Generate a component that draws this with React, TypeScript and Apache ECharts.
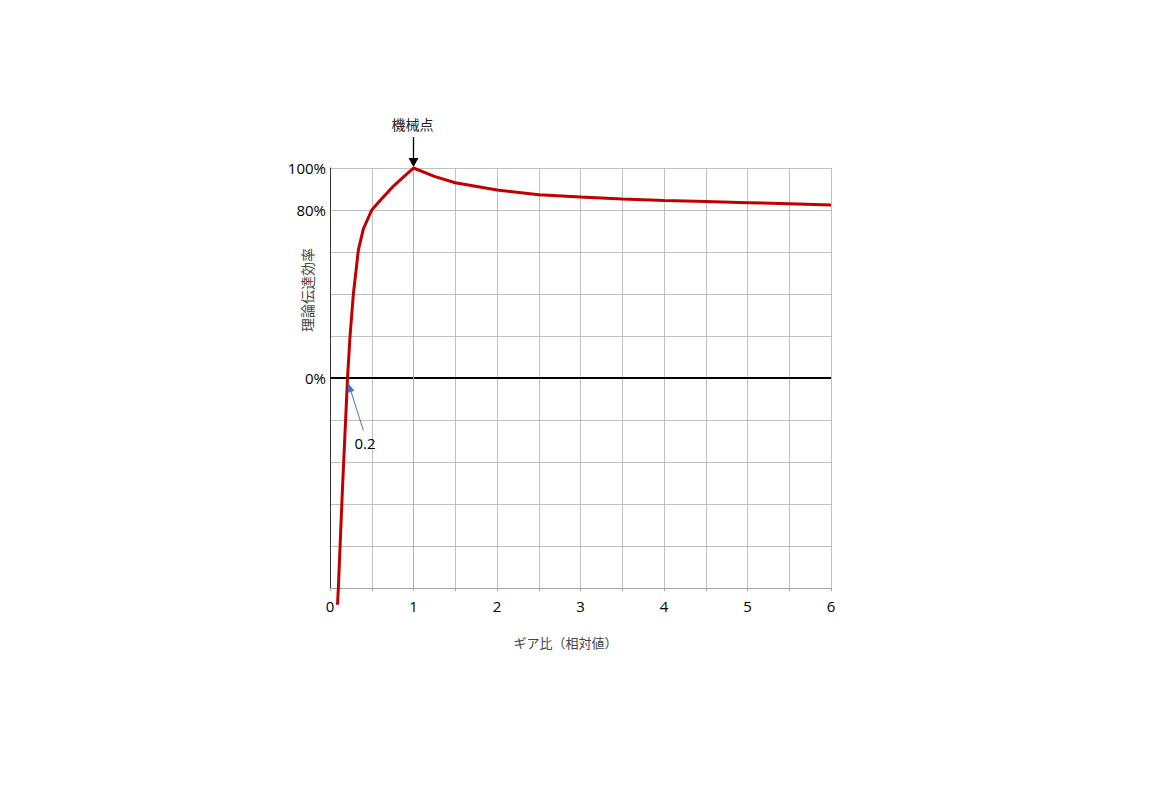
import React, { useEffect, useRef } from "react";
import * as echarts from "echarts";

// Gear ratio (relative) and theoretical transmission efficiency (%)
const gearRatio = [0.09, 0.1, 0.15, 0.21, 0.24, 0.28, 0.34, 0.4, 0.5, 0.6, 0.75, 0.875, 1, 1.25, 1.5, 2, 2.5, 3, 3.5, 4, 4.5, 5, 5.5, 6];
const efficiency = [-108, -100, -52, 0, 20, 40, 61, 71, 80, 84.5, 91, 95.5, 100, 96, 93, 89.5, 87.3, 86.2, 85.2, 84.5, 84, 83.5, 83, 82.4];

const yTickLabels = [100, 80, 0];
const xName = "ギア比（相対値）";
const yName = "理論伝達効率";
const peakLabel = "機械点";
const peakPoint = [1, 100];
const zeroLabel = "0.2";
const zeroArrowTip = [0.22, -2.5];
const zeroArrowTail = [0.4, -25];
const zeroLabelPos = [0.42, -31];

const FONT = "'Open Sans', 'Noto Sans CJK JP', sans-serif";
const JP = "'Noto Sans CJK JP', sans-serif";

export default function App() {
  const ref = useRef<HTMLDivElement>(null);
  useEffect(() => {
    if (!ref.current) return;
    const chart = echarts.init(ref.current, null, { renderer: "svg" });
    const data = gearRatio.map((x, i) => [x, efficiency[i]]);
    chart.setOption({
      animation: false,
      backgroundColor: "#ffffff",
      grid: { left: 330, top: 168, width: 501, height: 420, containLabel: false },
      xAxis: {
        type: "value",
        min: 0,
        max: 6,
        interval: 0.5,
        name: xName,
        nameLocation: "middle",
        nameGap: 48,
        nameTextStyle: { fontFamily: JP, fontSize: 13, color: "#444", padding: [0, 30, 0, 0] },
        axisLine: { show: true, onZero: false, lineStyle: { color: "#a6a6a6", width: 1 } },
        axisTick: { show: true, length: 3, lineStyle: { color: "#a6a6a6" } },
        axisLabel: {
          fontFamily: FONT,
          fontSize: 15,
          color: "#000",
          margin: 10,
          formatter: (v: number) => (Number.isInteger(v) ? String(v) : ""),
        },
        splitLine: { show: true, lineStyle: { color: "#bfbfbf", width: 1 } },
      },
      yAxis: {
        type: "value",
        min: -100,
        max: 100,
        interval: 20,
        axisLine: { show: true, onZero: false, lineStyle: { color: "#333", width: 1 } },
        axisTick: { show: false },
        axisLabel: {
          fontFamily: FONT,
          fontSize: 15,
          color: "#000",
          margin: 4,
          formatter: (v: number) => (yTickLabels.indexOf(v) >= 0 ? v + "%" : ""),
        },
        splitLine: { show: true, lineStyle: { color: "#bfbfbf", width: 1 } },
      },
      series: [
        {
          type: "line",
          data,
          clip: false,
          showSymbol: false,
          symbol: "none",
          smooth: false,
          lineStyle: { color: "#c00000", width: 3 },
          z: 5,
          markLine: {
            silent: true,
            symbol: "none",
            label: { show: false },
            data: [
              { yAxis: 0, lineStyle: { color: "#000", width: 2, type: "solid" } },
              { xAxis: 1, lineStyle: { color: "#93c47d", width: 1, type: "solid" } },
            ],
            z: 3,
          },
        },
      ],
    });

    const px = (p: number[]) => chart.convertToPixel({ gridIndex: 0 }, p) as number[];
    const peak = px(peakPoint);
    const tip = px(zeroArrowTip);
    const tail = px(zeroArrowTail);
    const lab = px(zeroLabelPos);
    const dx = tip[0] - tail[0];
    const dy = tip[1] - tail[1];
    const len = Math.sqrt(dx * dx + dy * dy);
    const ux = dx / len;
    const uy = dy / len;
    const hl = 9;
    const hw = 3.5;
    const bx = tip[0] - ux * hl;
    const by = tip[1] - uy * hl;

    chart.setOption({
      graphic: [
        {
          type: "text",
          x: 307,
          y: 290,
          rotation: Math.PI / 2,
          style: { text: yName, fontFamily: JP, fontSize: 14, fill: "#444", align: "center", verticalAlign: "middle" },
        },
        {
          type: "text",
          x: peak[0] - 1,
          y: peak[1] - 44,
          style: { text: peakLabel, fontFamily: JP, fontSize: 14, fill: "#222", align: "center", verticalAlign: "middle" },
        },
        {
          type: "line",
          shape: { x1: peak[0], y1: peak[1] - 31, x2: peak[0], y2: peak[1] - 8 },
          style: { stroke: "#000", lineWidth: 1.3 },
        },
        {
          type: "polygon",
          shape: { points: [[peak[0] - 5, peak[1] - 10], [peak[0] + 5, peak[1] - 10], [peak[0], peak[1] - 1]] },
          style: { fill: "#000" },
        },
        {
          type: "line",
          shape: { x1: tail[0], y1: tail[1], x2: bx, y2: by },
          style: { stroke: "#4472c4", lineWidth: 1 },
          z: 10,
        },
        {
          type: "polygon",
          shape: {
            points: [
              [tip[0], tip[1]],
              [bx - uy * hw, by + ux * hw],
              [bx + uy * hw, by - ux * hw],
            ],
          },
          style: { fill: "#4472c4" },
          z: 10,
        },
        {
          type: "text",
          x: lab[0],
          y: lab[1],
          style: { text: zeroLabel, fontFamily: FONT, fontSize: 15, fill: "#000", align: "center", verticalAlign: "middle" },
          z: 10,
        },
      ],
    });

    return () => chart.dispose();
  }, []);
  return (
    <div
      ref={ref}
      style={{ position: "fixed", left: 0, top: 0, width: 1156, height: 800, background: "#fff" }}
    />
  );
}
